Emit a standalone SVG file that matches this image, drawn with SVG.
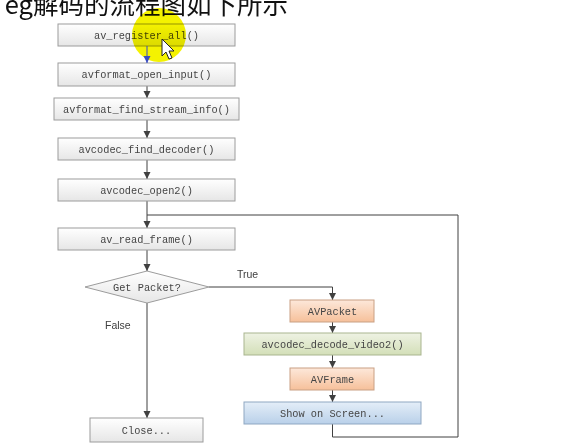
<svg xmlns="http://www.w3.org/2000/svg" width="569" height="446" viewBox="0 0 569 446">
<defs>
<linearGradient id="gGray" x1="0" y1="0" x2="0" y2="1"><stop offset="0" stop-color="#ffffff"/><stop offset="1" stop-color="#e6e6e6"/></linearGradient>
<linearGradient id="gOrange" x1="0" y1="0" x2="0" y2="1"><stop offset="0" stop-color="#fde8da"/><stop offset="1" stop-color="#f6c09a"/></linearGradient>
<linearGradient id="gGreen" x1="0" y1="0" x2="0" y2="1"><stop offset="0" stop-color="#eef2e3"/><stop offset="1" stop-color="#d3dfb8"/></linearGradient>
<linearGradient id="gBlue" x1="0" y1="0" x2="0" y2="1"><stop offset="0" stop-color="#e4eef8"/><stop offset="1" stop-color="#b9d0e9"/></linearGradient>
<marker id="arr" markerUnits="userSpaceOnUse" markerWidth="8" markerHeight="8" refX="7" refY="3.5" orient="auto"><path d="M0,0 L7,3.5 L0,7 z" fill="#404040"/></marker>
<marker id="arrB" markerUnits="userSpaceOnUse" markerWidth="8" markerHeight="8" refX="7" refY="3.5" orient="auto"><path d="M0,0 L7,3.5 L0,7 z" fill="#3a4cc0"/></marker>
</defs>
<style>
.box{fill:url(#gGray);stroke:#9c9c9c;stroke-width:1}
.or{fill:url(#gOrange);stroke:#c9a084;stroke-width:1}
.gr{fill:url(#gGreen);stroke:#a9b58f;stroke-width:1}
.bl{fill:url(#gBlue);stroke:#8fa7c2;stroke-width:1}
.t{font-family:"Liberation Mono","DejaVu Sans Mono",monospace;font-size:10.3px;fill:#454545;text-anchor:middle}
.lbl{font-family:"Liberation Sans",Arial,sans-serif;font-size:10.5px;fill:#404040}
.c{fill:none;stroke:#404040;stroke-width:1}
.ca{fill:none;stroke:#404040;stroke-width:1;marker-end:url(#arr)}
</style>
<rect width="569" height="446" fill="#ffffff"/>
<text x="288" y="14" text-anchor="end" font-family="'Noto Sans CJK SC','Noto Sans',sans-serif" font-size="25.5" fill="#111111">eg解码的流程图如下所示</text>

<g id="connectors">
<line class="ca" x1="147" y1="86" x2="147" y2="98"/>
<line class="ca" x1="147" y1="120" x2="147" y2="138"/>
<line class="ca" x1="147" y1="160" x2="147" y2="179"/>
<line class="ca" x1="147" y1="201" x2="147" y2="228"/>
<polyline class="c" points="332.5,424 332.5,437 458,437 458,215 147,215"/>
<line class="ca" x1="147" y1="250" x2="147" y2="271"/>
<polyline class="ca" points="209,287 332.5,287 332.5,300"/>
<line class="ca" x1="147" y1="303" x2="147" y2="418"/>
<line class="ca" x1="332.5" y1="322" x2="332.5" y2="333"/>
<line class="ca" x1="332.5" y1="355" x2="332.5" y2="368"/>
<line class="ca" x1="332.5" y1="390" x2="332.5" y2="402"/>
</g>

<g id="n1"><rect class="box" x="58" y="24" width="177" height="22"/><text class="t" x="146.5" y="38.5">av_register_all()</text></g>
<g id="n2"><rect class="box" x="58" y="63" width="177" height="23"/><text class="t" x="146.5" y="78">avformat_open_input()</text></g>
<g id="n3"><rect class="box" x="54" y="98" width="185" height="22"/><text class="t" x="146.5" y="112.5">avformat_find_stream_info()</text></g>
<g id="n4"><rect class="box" x="58" y="138" width="177" height="22"/><text class="t" x="146.5" y="152.5">avcodec_find_decoder()</text></g>
<g id="n5"><rect class="box" x="58" y="179" width="177" height="22"/><text class="t" x="146.5" y="193.5">avcodec_open2()</text></g>
<g id="n6"><rect class="box" x="58" y="228" width="177" height="22"/><text class="t" x="146.5" y="242.5">av_read_frame()</text></g>
<g id="n7"><polygon class="box" points="85,287 147,271 209,287 147,303"/><text class="t" x="147" y="290.5">Get Packet?</text></g>
<g id="n8"><rect class="or" x="290" y="300" width="84" height="22"/><text class="t" x="332.5" y="314.5">AVPacket</text></g>
<g id="n9"><rect class="gr" x="244" y="333" width="177" height="22"/><text class="t" x="332.5" y="347.5">avcodec_decode_video2()</text></g>
<g id="n10"><rect class="or" x="290" y="368" width="84" height="22"/><text class="t" x="332.5" y="382.5">AVFrame</text></g>
<g id="n11"><rect class="bl" x="244" y="402" width="177" height="22"/><text class="t" x="332.5" y="416.5">Show on Screen...</text></g>
<g id="n12"><rect class="box" x="90" y="418" width="113" height="24"/><text class="t" x="146.5" y="433.5">Close...</text></g>

<text class="lbl" x="237" y="278">True</text>
<text class="lbl" x="105" y="329">False</text>

<circle cx="159" cy="35" r="27" fill="#f4f200" style="mix-blend-mode:multiply"/>
<line x1="147" y1="46" x2="147" y2="63" stroke="#3a4cc0" stroke-width="1" marker-end="url(#arrB)"/>
<polygon points="162,39 162,56 166,52 169,59 172,58 169,51 174,51" fill="#ffffff" stroke="#222222" stroke-width="1" stroke-linejoin="round"/>
</svg>
